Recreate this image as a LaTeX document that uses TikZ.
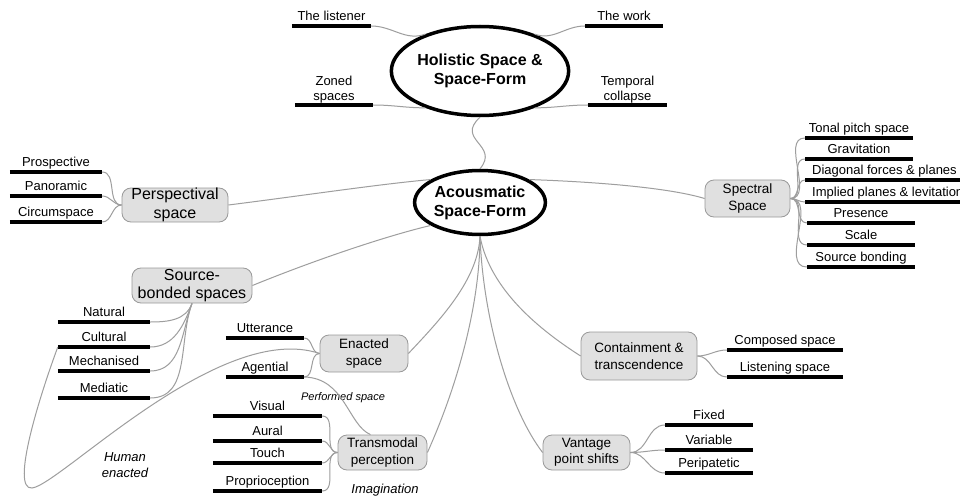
\documentclass[tikz,border=0pt]{standalone}
\usepackage{fontspec}
\setmainfont{Liberation Sans}
\usetikzlibrary{shapes.geometric}
\definecolor{conncol}{gray}{0.62}
\definecolor{boxfill}{gray}{0.88}
\definecolor{boxline}{gray}{0.6}
\tikzset{
  leaf/.style={font=\fontsize{13}{15}\selectfont, inner xsep=0pt, inner ysep=2pt, text height=9.5pt, text depth=3pt, anchor=south},
  leaftwo/.style={font=\fontsize{13}{15}\selectfont, inner xsep=0pt, inner ysep=2pt, align=center, anchor=south},
  uline/.style={line width=3.5pt, draw=black},
  conn/.style={draw=conncol, line width=1pt},
  topic/.style={draw=boxline, fill=boxfill, line width=0.8pt, rounded corners=9pt, align=center, font=\fontsize{13.5}{16.5}\selectfont, inner sep=0pt},
  bigtopic/.style={topic, font=\fontsize{16}{18.5}\selectfont},
  hub/.style={ellipse, draw=black, line width=3.5pt, align=center, font=\bfseries\fontsize{16}{19}\selectfont, inner sep=0pt},
  note/.style={font=\itshape\fontsize{13}{16}\selectfont, align=center, inner sep=0pt},
}
\newcommand\mkleaf[5]{%
  \node[leaf, minimum width={(#3-#2)*1pt}] (#1) at ({(#2+#3)/2},#4) {#5};
  \draw[uline] (#1.south west) -- (#1.south east);}
\newcommand\mkleaftwo[5]{%
  \node[leaftwo, minimum width={(#3-#2)*1pt}] (#1) at ({(#2+#3)/2},#4) {#5};
  \draw[uline] (#1.south west) -- (#1.south east);}
\begin{document}
\begin{tikzpicture}[x=1pt,y=-1pt]
\useasboundingbox[fill=white] (0,0) rectangle (960,497);

% hubs
\node[hub, minimum width=141pt, minimum height=89pt] (hol) at (480,71) {Holistic Space \&\\Space-Form};
\node[hub, minimum width=123pt, minimum height=64pt] (acous) at (480,202.5) {Acousmatic\\Space-Form};

% topics
\node[bigtopic, minimum width=106pt, minimum height=34pt] (persp) at (175,205) {Perspectival\\space};
\node[topic, minimum width=85pt, minimum height=37pt] (spectral) at (747.5,198.5) {Spectral\\Space};
\node[bigtopic, minimum width=120pt, minimum height=35pt] (source) at (192,285.5) {Source-\\bonded spaces};
\node[topic, minimum width=88pt, minimum height=37pt] (enacted) at (364,353.5) {Enacted\\space};
\node[topic, minimum width=89pt, minimum height=35pt] (transmodal) at (382.5,452.5) {Transmodal\\perception};
\node[topic, minimum width=116pt, minimum height=48pt] (containment) at (639,356) {Containment \&\\transcendence};
\node[topic, minimum width=87pt, minimum height=35pt] (vantage) at (586.5,452.5) {Vantage\\point shifts};

% leaves of holistic
\mkleaf{listener}{292}{371}{26}{The listener}
\mkleaf{work}{585}{663}{26}{The work}
\mkleaftwo{zoned}{295}{373}{105}{Zoned\\spaces}
\mkleaftwo{temporal}{588}{667}{105}{Temporal\\collapse}

% perspectival leaves
\mkleaf{prospective}{10}{102}{172}{Prospective}
\mkleaf{panoramic}{10}{102}{196}{Panoramic}
\mkleaf{circumspace}{10}{102}{222}{Circumspace}

% spectral leaves
\mkleaf{tonal}{805}{913}{138}{Tonal pitch space}
\mkleaf{gravitation}{805}{913}{159}{Gravitation}
\node[leaf, anchor=south west, inner xsep=7pt] (diagonal) at (805,180) {Diagonal forces \& planes};
\draw[uline] (diagonal.south west) -- (diagonal.south east);
\node[leaf, anchor=south west, inner xsep=7pt] (implied) at (805,202) {Implied planes \& levitation};
\draw[uline] (implied.south west) -- (implied.south east);
\mkleaf{presence}{807}{915}{223}{Presence}
\mkleaf{scale}{807}{915}{245}{Scale}
\mkleaf{sbonding}{807}{915}{267}{Source bonding}

% source-bonded leaves
\mkleaf{natural}{58}{150}{322}{Natural}
\mkleaf{cultural}{58}{150}{347}{Cultural}
\mkleaf{mechanised}{58}{150}{371}{Mechanised}
\mkleaf{mediatic}{58}{150}{398}{Mediatic}

% enacted leaves
\mkleaf{utterance}{226}{304}{338}{Utterance}
\mkleaf{agential}{226}{304}{377}{Agential}

% transmodal leaves
\mkleaf{visual}{213}{322}{416}{Visual}
\mkleaf{aural}{213}{322}{441}{Aural}
\mkleaf{touch}{213}{322}{463}{Touch}
\mkleaf{proprio}{213}{322}{491}{Proprioception}

% containment leaves
\mkleaf{composed}{727}{843}{350}{Composed space}
\mkleaf{listening}{727}{843}{377}{Listening space}

% vantage leaves
\mkleaf{fixed}{665}{753}{425}{Fixed}
\mkleaf{variable}{665}{753}{450}{Variable}
\mkleaf{peripatetic}{665}{753}{473}{Peripatetic}

% notes
\node[note] (human) at (125,465) {Human\\enacted};
\node[note, font=\itshape\fontsize{11}{13}\selectfont] (performed) at (343,398) {Performed space};
\node[note] (imagination) at (385,490) {Imagination};

% connectors: holistic
\draw[conn] (listener.south east) to[out=0,in=200] (hol.146);
\draw[conn] (work.south west) to[out=180,in=-20] (hol.34);
\draw[conn] (zoned.south east) to[out=0,in=180] (hol.214);
\draw[conn] (temporal.south west) to[out=180,in=0] (hol.-34);
\draw[conn] (hol.south) .. controls (455,140) and (500,145) .. (acous.north);

% connectors: acousmatic
\draw[conn] (persp.east) .. controls (300,196) and (380,184) .. (acous.155);
\draw[conn] (acous.25) .. controls (600,182) and (670,188) .. (spectral.west);
\draw[conn] (source.east) .. controls (320,258) and (390,235) .. (acous.205);
\draw[conn] (acous.south) .. controls (478,280) and (440,320) .. (enacted.east);
\draw[conn] (acous.south) .. controls (480,300) and (460,380) .. (transmodal.east);
\draw[conn] (acous.south) .. controls (483,320) and (510,410) .. (vantage.west);
\draw[conn] (acous.south) .. controls (490,290) and (540,330) .. (containment.west);

% perspectival leaves
\foreach \n in {prospective,panoramic,circumspace}
  \draw[conn] (persp.west) to[out=180,in=0] (\n.south east);
% spectral leaves
\foreach \n in {tonal,gravitation,diagonal,implied,presence,scale,sbonding}
  \draw[conn] (spectral.east) to[out=0,in=180] (\n.south west);
% source-bonded leaves
\foreach \n in {natural,cultural,mechanised,mediatic}
  \draw[conn] (source.south) to[out=250,in=0] (\n.south east);
% enacted leaves
\foreach \n in {utterance,agential}
  \draw[conn] (enacted.west) to[out=180,in=0] (\n.south east);
% transmodal leaves
\foreach \n in {visual,aural,touch,proprio}
  \draw[conn] (transmodal.west) to[out=180,in=0] (\n.south east);
% containment leaves
\foreach \n in {composed,listening}
  \draw[conn] (containment.east) to[out=0,in=180] (\n.south west);
% vantage leaves
\foreach \n in {fixed,variable,peripatetic}
  \draw[conn] (vantage.east) to[out=0,in=180] (\n.south west);

% human enacted loop
\draw[conn] (cultural.south west) .. controls (40,395) and (10,490) .. (32,488)
  .. controls (60,485) and (220,320) .. (enacted.west);
% performed space
\draw[conn] (agential.south east) .. controls (345,378) and (348,425) .. ([xshift=-12pt]transmodal.north);
\end{tikzpicture}
\end{document}
